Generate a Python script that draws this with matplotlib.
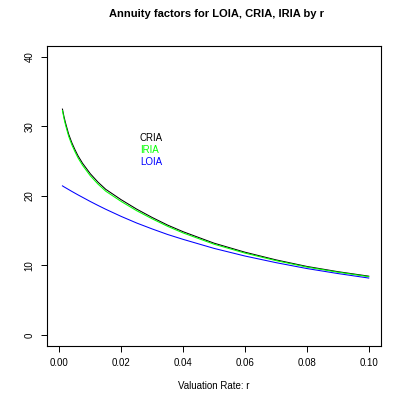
import matplotlib
matplotlib.use("Agg")
import matplotlib.pyplot as plt

# valuation rates and annuity factors
rates = [0.001, 0.0015, 0.002, 0.003, 0.004, 0.005, 0.006, 0.0075,
         0.01, 0.0125, 0.015, 0.02, 0.025, 0.03, 0.035,
         0.04, 0.05, 0.06, 0.07, 0.08, 0.09, 0.1]
cria = [32.5, 31.4, 30.5, 28.9, 27.7, 26.7, 25.8, 24.7,
        23.2, 21.98, 20.95, 19.45, 18.1, 16.9, 15.8,
        14.85, 13.2, 11.9, 10.8, 9.85, 9.1, 8.45]
iria = [32.3, 31.15, 30.2, 28.6, 27.4, 26.4, 25.5, 24.4,
        22.9, 21.7, 20.68, 19.2, 17.87, 16.7, 15.62,
        14.67, 13.05, 11.77, 10.69, 9.76, 9.03, 8.38]
loia = [21.45, 21.31, 21.18, 20.92, 20.66, 20.41, 20.16, 19.8,
        19.2, 18.63, 18.08, 17.05, 16.1, 15.25, 14.45,
        13.75, 12.45, 11.35, 10.4, 9.55, 8.83, 8.18]

series_names = ["CRIA", "IRIA", "LOIA"]
series_colors = ["black", "#00FF00", "#0000FF"]
label_x = 0.026
label_y = [28.3, 26.6, 24.9]

x_ticks = [0.00, 0.02, 0.04, 0.06, 0.08, 0.10]
y_ticks = [0, 10, 20, 30, 40]

plt.rcParams['font.family'] = ['Liberation Sans', 'DejaVu Sans']

fig = plt.figure(figsize=(4.05, 4.05), dpi=100)
ax = fig.add_axes([0.116, 0.1457, 0.825, 0.741])

for vals, col in zip([cria, iria, loia], series_colors):
    ax.plot(rates, vals, color=col, lw=0.75)

for name, col, yy in zip(series_names, series_colors, label_y):
    ax.text(label_x, yy, name, color=col, fontsize=7, ha='left', va='center')

ax.set_xlim(-0.004, 0.104)
ax.set_ylim(-1.6, 41.6)
ax.set_xticks(x_ticks)
ax.set_xticklabels(["%.2f" % v for v in x_ticks])
ax.set_yticks(y_ticks)
ax.set_yticklabels([str(v) for v in y_ticks], rotation=90, va='center')
ax.tick_params(direction='out', length=4, width=0.7, labelsize=7, pad=5)
for s in ax.spines.values():
    s.set_linewidth(0.8)

ax.set_xlabel("Valuation Rate: r", fontsize=7, labelpad=9)
fig.text(0.535, 0.965, "Annuity factors for LOIA, CRIA, IRIA by r", fontsize=8,
         fontweight='bold', ha='center', va='center')

fig.savefig("out.png", dpi=100)
